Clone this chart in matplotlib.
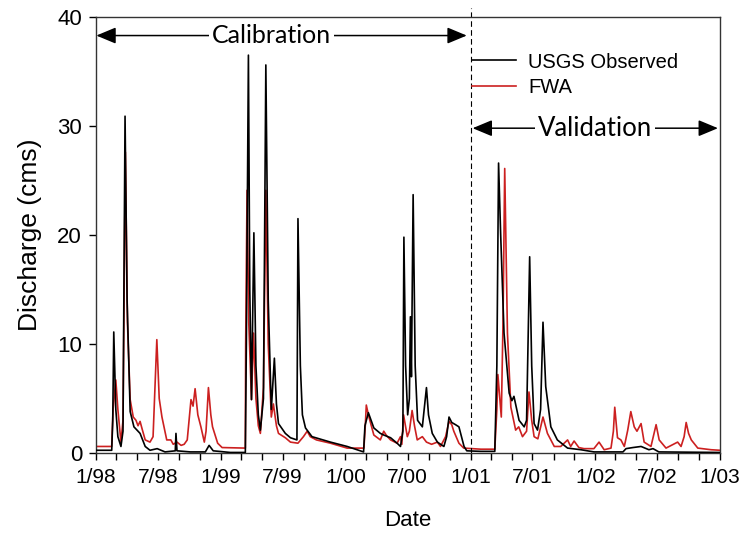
import numpy as np
import pandas as pd
import matplotlib
matplotlib.use("Agg")
import matplotlib.pyplot as plt
import matplotlib.dates as mdates
from matplotlib.ticker import FuncFormatter

plt.rcParams['font.family'] = ['Liberation Sans', 'DejaVu Sans']

# USGS observed discharge (cms)
obs_dates = ['1998-01-01', '1998-02-16', '1998-02-19', '1998-02-22', '1998-02-28', '1998-03-06',
             '1998-03-15', '1998-03-21', '1998-03-27', '1998-04-02', '1998-04-11', '1998-04-22',
             '1998-05-10', '1998-05-25', '1998-06-08', '1998-06-29', '1998-07-22', '1998-08-21',
             '1998-08-23', '1998-08-26', '1998-10-04', '1998-11-17', '1998-11-28', '1998-12-10',
             '1999-01-29', '1999-03-14', '1999-03-17', '1999-03-23', '1999-03-27', '1999-04-01',
             '1999-04-08', '1999-04-14', '1999-04-21', '1999-04-27', '1999-05-06', '1999-05-13',
             '1999-05-20', '1999-05-29', '1999-06-07', '1999-06-13', '1999-06-19', '1999-07-09',
             '1999-07-24', '1999-08-12', '1999-08-15', '1999-08-22', '1999-08-28', '1999-09-06',
             '1999-09-25', '1999-11-18', '2000-01-06', '2000-02-23', '2000-02-27', '2000-03-08',
             '2000-03-24', '2000-04-12', '2000-04-22', '2000-05-12', '2000-05-31', '2000-06-10',
             '2000-06-17', '2000-06-20', '2000-06-25', '2000-07-01', '2000-07-06', '2000-07-09',
             '2000-07-12', '2000-07-17', '2000-07-23', '2000-07-30', '2000-08-13', '2000-08-25',
             '2000-08-31', '2000-09-11', '2000-09-26', '2000-10-15', '2000-10-23', '2000-10-30',
             '2000-11-07', '2000-11-18', '2000-11-28', '2000-12-13', '2000-12-21', '2001-01-31',
             '2001-03-13', '2001-03-19', '2001-03-24', '2001-03-30', '2001-04-09', '2001-04-24',
             '2001-05-02', '2001-05-08', '2001-05-23', '2001-06-07', '2001-06-14', '2001-06-23',
             '2001-06-29', '2001-07-06', '2001-07-16', '2001-07-25', '2001-08-01', '2001-08-09',
             '2001-08-24', '2001-09-12', '2001-10-12', '2001-11-20', '2001-12-28', '2002-03-23',
             '2002-04-01', '2002-04-21', '2002-05-15', '2002-06-07', '2002-06-19', '2002-07-06',
             '2003-01-01']
obs_vals = [0.25, 0.25, 3.0, 11.1, 4.0, 1.5,
            0.6, 2.0, 30.9, 14.0, 3.8, 2.4,
            1.8, 0.6, 0.25, 0.4, 0.1, 0.2,
            1.8, 0.2, 0.1, 0.1, 0.7, 0.2,
            0.05, 0.05, 10.0, 36.5, 15.0, 4.9,
            20.2, 8.0, 3.5, 2.1, 5.0, 35.6,
            14.0, 4.0, 8.7, 4.5, 2.7, 1.8,
            1.4, 1.2, 21.5, 8.0, 3.5, 2.3,
            1.5, 1.0, 0.6, 0.1, 2.5, 3.7,
            2.3, 1.8, 1.65, 1.4, 0.9, 0.6,
            2.0, 19.8, 8.0, 3.5, 5.0, 12.5,
            7.0, 23.7, 8.0, 3.0, 2.4, 6.0,
            3.5, 1.8, 1.0, 0.6, 1.5, 3.3,
            2.8, 2.6, 2.4, 0.6, 0.2, 0.15,
            0.15, 8.0, 26.6, 20.2, 11.0, 5.5,
            4.8, 5.2, 3.0, 2.4, 3.0, 18.0,
            8.0, 2.7, 2.1, 4.0, 12.0, 6.1,
            2.4, 1.2, 0.45, 0.3, 0.1, 0.1,
            0.4, 0.5, 0.6, 0.3, 0.4, 0.1,
            0.05]

# FWA simulated discharge (cms)
fwa_dates = ['1998-01-01', '1998-02-16', '1998-02-20', '1998-02-28', '1998-03-06', '1998-03-15',
             '1998-03-21', '1998-03-28', '1998-04-03', '1998-04-11', '1998-04-20', '1998-04-28',
             '1998-05-04', '1998-05-10', '1998-05-16', '1998-05-25', '1998-06-08', '1998-06-17',
             '1998-06-28', '1998-07-05', '1998-07-13', '1998-07-27', '1998-08-08', '1998-08-15',
             '1998-08-26', '1998-09-07', '1998-09-16', '1998-09-25', '1998-10-06', '1998-10-12',
             '1998-10-18', '1998-10-26', '1998-11-04', '1998-11-14', '1998-11-19', '1998-11-26',
             '1998-12-03', '1998-12-08', '1998-12-23', '1999-01-05', '1999-03-14', '1999-03-15',
             '1999-03-19', '1999-03-24', '1999-04-01', '1999-04-07', '1999-04-14', '1999-04-21',
             '1999-04-27', '1999-05-06', '1999-05-13', '1999-05-20', '1999-05-29', '1999-06-04',
             '1999-06-13', '1999-06-19', '1999-07-09', '1999-07-24', '1999-08-15', '1999-08-31',
             '1999-09-11', '1999-09-20', '1999-10-08', '1999-11-18', '1999-12-20', '2000-01-06',
             '2000-02-24', '2000-02-28', '2000-03-02', '2000-03-08', '2000-03-24', '2000-04-12',
             '2000-04-22', '2000-04-30', '2000-05-12', '2000-05-31', '2000-06-10', '2000-06-14',
             '2000-06-19', '2000-06-30', '2000-07-06', '2000-07-14', '2000-07-21', '2000-07-29',
             '2000-08-13', '2000-08-25', '2000-09-09', '2000-09-26', '2000-10-05', '2000-10-20',
             '2000-10-30', '2000-11-07', '2000-11-13', '2000-11-28', '2000-12-12', '2001-01-31',
             '2001-03-13', '2001-03-19', '2001-03-22', '2001-04-01', '2001-04-06', '2001-04-11',
             '2001-04-19', '2001-04-29', '2001-05-13', '2001-05-22', '2001-06-02', '2001-06-14',
             '2001-06-21', '2001-06-29', '2001-07-06', '2001-07-17', '2001-08-01', '2001-08-14',
             '2001-09-03', '2001-09-22', '2001-10-12', '2001-10-21', '2001-10-31', '2001-11-14',
             '2001-11-29', '2001-12-28', '2002-01-12', '2002-01-27', '2002-02-16', '2002-02-23',
             '2002-02-27', '2002-03-07', '2002-03-17', '2002-03-27', '2002-04-06', '2002-04-15',
             '2002-04-25', '2002-05-03', '2002-05-15', '2002-05-24', '2002-06-13', '2002-06-28',
             '2002-07-07', '2002-07-27', '2002-08-30', '2002-09-09', '2002-09-18', '2002-09-24',
             '2002-10-01', '2002-10-09', '2002-10-28', '2002-12-06', '2003-01-01']
fwa_vals = [0.6, 0.6, 4.0, 6.7, 4.0, 1.0,
            3.0, 27.6, 12.0, 4.9, 3.3, 3.0,
            2.5, 2.9, 2.2, 1.2, 1.0, 1.5,
            10.4, 5.0, 3.3, 1.2, 1.2, 0.8,
            1.0, 0.7, 0.8, 1.2, 4.9, 4.3,
            5.9, 3.5, 2.4, 1.0, 2.0, 6.0,
            3.5, 2.4, 0.9, 0.5, 0.45, 10.0,
            24.1, 12.0, 4.9, 11.0, 5.0, 2.5,
            1.8, 6.0, 24.1, 10.0, 3.3, 4.5,
            2.5, 1.8, 1.4, 1.0, 0.9, 1.5,
            2.0, 1.5, 1.2, 0.9, 0.6, 0.45,
            0.45, 2.5, 4.4, 3.5, 1.65, 1.2,
            2.0, 1.6, 1.2, 0.9, 1.5, 0.8,
            3.5, 1.5, 2.0, 3.9, 2.5, 1.2,
            1.5, 1.0, 0.8, 1.0, 0.6, 1.5,
            2.9, 2.6, 2.0, 0.9, 0.45, 0.35,
            0.35, 4.0, 7.2, 3.3, 12.0, 26.1,
            11.0, 4.2, 2.1, 2.4, 1.5, 2.0,
            5.6, 3.0, 1.5, 1.3, 3.3, 1.8,
            0.6, 0.6, 1.2, 0.6, 1.1, 0.5,
            0.4, 0.4, 1.0, 0.3, 0.45, 2.0,
            4.2, 1.4, 1.2, 0.6, 2.1, 3.8,
            2.4, 2.0, 2.7, 1.0, 0.6, 2.6,
            1.2, 0.45, 1.0, 0.6, 1.5, 2.8,
            1.8, 1.2, 0.45, 0.3, 0.25]

split_date = '2001-01-01'

obs_t = pd.to_datetime(obs_dates)
fwa_t = pd.to_datetime(fwa_dates)

fig = plt.figure(figsize=(7.39, 5.42), dpi=100)
ax = fig.add_axes([0.1299, 0.1642, 0.8444, 0.8044])

ax.plot(obs_t, obs_vals, color='black', lw=1.2, label='USGS Observed', zorder=3)
ax.plot(fwa_t, fwa_vals, color='#cc2020', lw=1.2, label='FWA', zorder=2)

ax.set_xlim(pd.Timestamp('1998-01-01'), pd.Timestamp('2003-01-01'))
ax.set_ylim(0, 40)
ax.set_yticks([0, 10, 20, 30, 40])

ax.xaxis.set_major_locator(mdates.MonthLocator(bymonth=[1, 7]))
ax.xaxis.set_minor_locator(mdates.MonthLocator(bymonth=[3, 5, 9, 11]))
ax.xaxis.set_major_formatter(FuncFormatter(
    lambda v, p: '%d/%02d' % (mdates.num2date(v).month, mdates.num2date(v).year % 100)))

ax.tick_params(axis='x', which='both', direction='out', length=5, width=1, labelsize=15, pad=6)
ax.tick_params(axis='y', direction='out', length=5, width=1, labelsize=16, pad=5)
for s in ax.spines.values():
    s.set_color('#333333')
    s.set_linewidth(1)

ax.set_xlabel('Date', fontsize=16, labelpad=16)
ax.set_ylabel('Discharge (cms)', fontsize=19, labelpad=11)

# calibration / validation split
ax.axvline(pd.Timestamp(split_date), ymin=0, ymax=1.02, color='black', lw=0.8,
           ls=(0, (5, 3)), clip_on=False)

arrow = dict(arrowstyle='<|-|>,head_length=0.6,head_width=0.25', color='black',
             lw=1.1, mutation_scale=20, shrinkA=0, shrinkB=0)
ax.annotate('', xy=(pd.Timestamp('1998-01-02'), 38.3), xytext=(pd.Timestamp('2000-12-21'), 38.3),
            arrowprops=arrow)
ax.text(pd.Timestamp('1999-05-29'), 38.3, 'Calibration', ha='center', va='center',
        fontsize=18, family=['Lato', 'DejaVu Sans'],
        bbox=dict(fc='white', ec='none', pad=2))
ax.annotate('', xy=(pd.Timestamp('2001-01-07'), 29.8), xytext=(pd.Timestamp('2002-12-26'), 29.8),
            arrowprops=arrow)
ax.text(pd.Timestamp('2001-12-31'), 29.8, 'Validation', ha='center', va='center',
        fontsize=18.5, family=['Lato', 'DejaVu Sans'],
        bbox=dict(fc='white', ec='none', pad=2))

ax.legend(loc='center left', bbox_to_anchor=(0.6026, 0.868), frameon=False, fontsize=14.5,
          handlelength=2.2, handletextpad=0.6, labelspacing=0.3, borderpad=0, borderaxespad=0)

fig.savefig('out.png', dpi=100)
